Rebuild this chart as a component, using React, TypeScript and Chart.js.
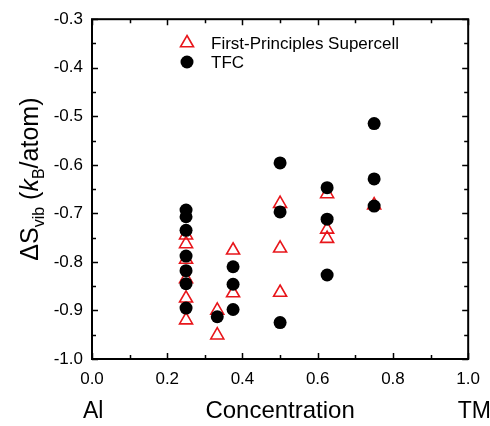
import React, { useEffect, useRef } from "react";
import { Chart, registerables } from "chart.js";

Chart.register(...registerables);

// ---- data ----
const supercellConc = [0.25, 0.25, 0.25, 0.25, 0.25, 0.25, 0.333, 0.333, 0.375, 0.375, 0.5, 0.5, 0.5, 0.625, 0.625, 0.625, 0.75];
const supercellDS = [-0.745, -0.763, -0.795, -0.835, -0.875, -0.92, -0.9, -0.951, -0.776, -0.864, -0.68, -0.772, -0.863, -0.66, -0.733, -0.752, -0.683];

const tfcConc = [0.25, 0.25, 0.25, 0.25, 0.25, 0.25, 0.25, 0.333, 0.375, 0.375, 0.375, 0.5, 0.5, 0.5, 0.625, 0.625, 0.625, 0.75, 0.75, 0.75];
const tfcDS = [-0.693, -0.707, -0.735, -0.788, -0.818, -0.845, -0.895, -0.913, -0.81, -0.846, -0.898, -0.596, -0.697, -0.925, -0.647, -0.712, -0.827, -0.515, -0.629, -0.685];

const seriesLabels = ["First-Principles Supercell", "TFC"];
const xEndLabels = ["Al", "TM"];
const xTitle = "Concentration";

const RED = "#e8161b";
const FONT = "'Liberation Sans', Arial, sans-serif";

const framePlugin = {
  id: "frame",
  afterDraw(chart: any) {
    const { ctx, chartArea: a, scales } = chart;
    const xs = scales.x;
    const ys = scales.y;
    ctx.save();
    ctx.strokeStyle = "#000";
    ctx.lineWidth = 2;
    ctx.strokeRect(a.left, a.top, a.right - a.left, a.bottom - a.top);
    ctx.lineWidth = 1.5;
    // x ticks (every 0.1, major every 0.2)
    for (let i = 0; i <= 10; i++) {
      const px = Math.round(xs.getPixelForValue(i / 10)) + 0.5;
      const len = i % 2 === 0 ? 6 : 4;
      ctx.beginPath();
      ctx.moveTo(px, a.bottom);
      ctx.lineTo(px, a.bottom - len);
      ctx.moveTo(px, a.top);
      ctx.lineTo(px, a.top + len);
      ctx.stroke();
    }
    // y ticks (every 0.05, major every 0.1)
    for (let i = 0; i <= 14; i++) {
      const v = -1.0 + i * 0.05;
      const py = Math.round(ys.getPixelForValue(v)) + 0.5;
      const len = i % 2 === 0 ? 6 : 4;
      ctx.beginPath();
      ctx.moveTo(a.left, py);
      ctx.lineTo(a.left + len, py);
      ctx.moveTo(a.right, py);
      ctx.lineTo(a.right - len, py);
      ctx.stroke();
    }

    // legend
    const lx = 187;
    const ly1 = 43;
    const ly2 = 62;
    const r = 7.5;
    ctx.strokeStyle = RED;
    ctx.lineWidth = 1.6;
    ctx.beginPath();
    ctx.moveTo(lx, ly1 - r);
    ctx.lineTo(lx + r * Math.sin((2 * Math.PI) / 3), ly1 - r * Math.cos((2 * Math.PI) / 3));
    ctx.lineTo(lx + r * Math.sin((4 * Math.PI) / 3), ly1 - r * Math.cos((4 * Math.PI) / 3));
    ctx.closePath();
    ctx.stroke();
    ctx.fillStyle = "#000";
    ctx.beginPath();
    ctx.arc(lx, ly2, 6.5, 0, Math.PI * 2);
    ctx.fill();
    ctx.font = `17px ${FONT}`;
    ctx.textBaseline = "middle";
    ctx.textAlign = "left";
    ctx.fillText(seriesLabels[0], 211, ly1 + 1);
    ctx.fillText(seriesLabels[1], 211, ly2 + 1);

    // x titles
    ctx.font = `23px ${FONT}`;
    ctx.textBaseline = "alphabetic";
    ctx.fillText(xEndLabels[0], 83, 418);
    ctx.textAlign = "right";
    ctx.fillText(xEndLabels[1], 491, 418);
    ctx.textAlign = "center";
    ctx.font = `24px ${FONT}`;
    ctx.fillText(xTitle, (a.left + a.right) / 2, 418);

    // y title: ΔS_vib (k_B/atom)
    const big = 25;
    const small = 16;
    const segs: [string, string, number][] = [
      ["ΔS", `${big}px ${FONT}`, 0],
      ["vib", `${small}px ${FONT}`, 6],
      [" (", `${big}px ${FONT}`, 0],
      ["k", `italic ${big}px ${FONT}`, 0],
      ["B", `${small}px ${FONT}`, 6],
      ["/atom)", `${big}px ${FONT}`, 0],
    ];
    let total = 0;
    for (const s of segs) {
      ctx.font = s[1];
      total += ctx.measureText(s[0]).width;
    }
    ctx.translate(38, (a.top + a.bottom) / 2 - 10);
    ctx.rotate(-Math.PI / 2);
    ctx.textAlign = "left";
    let x = -total / 2;
    for (const s of segs) {
      ctx.font = s[1];
      ctx.fillText(s[0], x, s[2]);
      x += ctx.measureText(s[0]).width;
    }
    ctx.restore();
  },
};

export default function App() {
  const ref = useRef<HTMLCanvasElement | null>(null);
  useEffect(() => {
    if (!ref.current) return;
    const chart = new Chart(ref.current, {
      type: "scatter",
      data: {
        datasets: [
          {
            label: seriesLabels[1],
            data: tfcConc.map((c, i) => ({ x: c, y: tfcDS[i] })),
            pointStyle: "circle",
            pointRadius: 6.5,
            pointBackgroundColor: "#000",
            pointBorderColor: "#000",
            pointBorderWidth: 0,
            order: 0,
          },
          {
            label: seriesLabels[0],
            data: supercellConc.map((c, i) => ({ x: c, y: supercellDS[i] })),
            pointStyle: "triangle",
            pointRadius: 7.5,
            pointBackgroundColor: "rgba(255,255,255,0)",
            pointBorderColor: RED,
            pointBorderWidth: 1.6,
            order: 1,
          },
        ],
      },
      options: {
        animation: false,
        responsive: false,
        layout: { padding: { top: 15, right: 18, left: 0, bottom: 0 } },
        plugins: { legend: { display: false }, tooltip: { enabled: false } },
        scales: {
          x: {
            type: "linear",
            min: 0,
            max: 1,
            grid: { display: false, drawTicks: false },
            border: { display: false },
            ticks: {
              stepSize: 0.2,
              padding: 10,
              color: "#000",
              font: { family: FONT, size: 17 },
              callback: (v: any) => Number(v).toFixed(1),
            },
            afterFit: (s: any) => {
              s.height = 67;
            },
          },
          y: {
            type: "linear",
            min: -1.0,
            max: -0.3,
            grid: { display: false, drawTicks: false },
            border: { display: false },
            ticks: {
              stepSize: 0.1,
              padding: 9,
              color: "#000",
              font: { family: FONT, size: 17 },
              callback: (v: any) => Number(v).toFixed(1),
            },
            afterFit: (s: any) => {
              s.width = 92;
            },
          },
        },
      },
      plugins: [framePlugin],
    });
    return () => chart.destroy();
  }, []);
  return (
    <div style={{ position: "fixed", left: 0, top: 0, width: 490, height: 426, background: "#fff" }}>
      <canvas ref={ref} width={490} height={426} style={{ width: 490, height: 426 }} />
    </div>
  );
}
